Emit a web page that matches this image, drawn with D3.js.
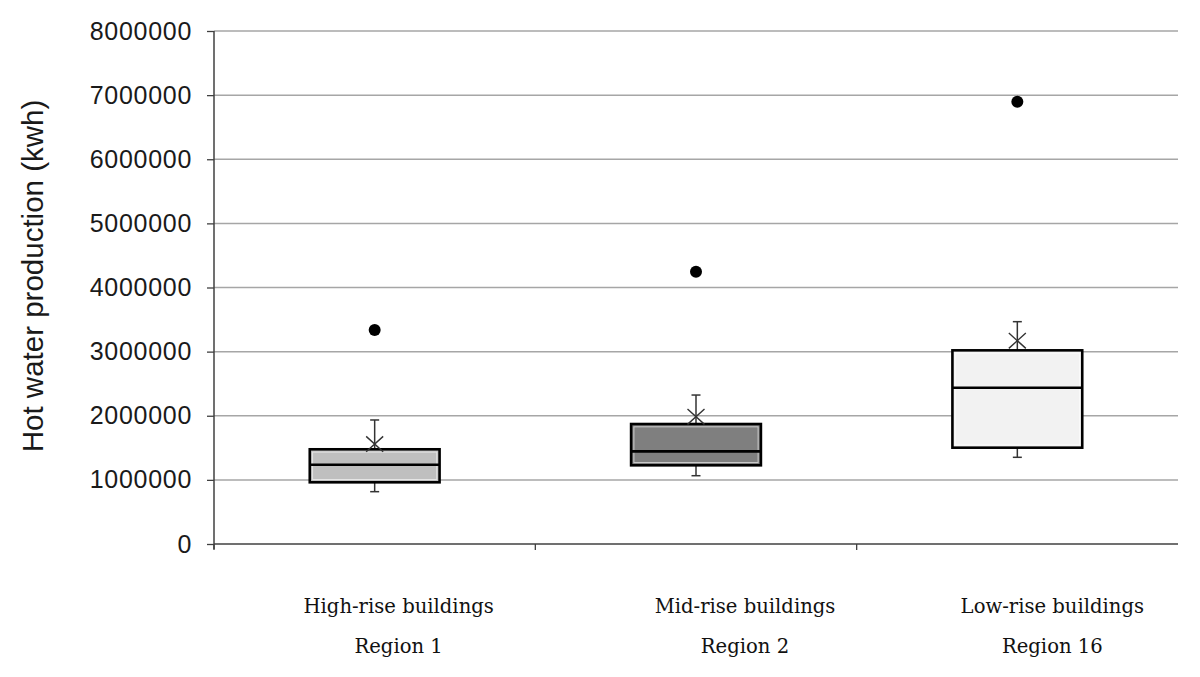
<!DOCTYPE html>
<html>
<head>
<meta charset="utf-8">
<script src="https://cdn.jsdelivr.net/npm/d3@7"></script>
<style>
  body { margin: 0; background: #fff; }
</style>
</head>
<body>
<svg id="chart"></svg>
<script>
// data
var buildingTypes = ["High-rise buildings", "Mid-rise buildings", "Low-rise buildings"];
var regionNames   = ["Region 1", "Region 2", "Region 16"];
var whiskerLow    = [816000, 1065000, 1352000];
var q1Values      = [962000, 1227000, 1502000];
var medianValues  = [1237000, 1445000, 2437000];
var q3Values      = [1477000, 1871000, 3020000];
var whiskerHigh   = [1934000, 2323000, 3467000];
var meanValues    = [1559000, 1985000, 3170000];
var outlierValues = [3337000, 4246000, 6897000];
var yTickValues   = [0, 1000000, 2000000, 3000000, 4000000, 5000000, 6000000, 7000000, 8000000];

// styling / layout
var boxFills   = ["#bfbfbf", "#7f7f7f", "#f2f2f2"];
var labelShift = [24, 49, 35];

var width = 1200, height = 677;
var margin = { top: 31, right: 22, bottom: 133, left: 214 };

var svg = d3.select('#chart')
            .attr('width', width)
            .attr('height', height);

var boxes = buildingTypes.map(function(d, i) {
  return {
    name: d, region: regionNames[i],
    lo: whiskerLow[i], q1: q1Values[i], med: medianValues[i],
    q3: q3Values[i], hi: whiskerHigh[i], mean: meanValues[i],
    out: outlierValues[i], fill: boxFills[i], shift: labelShift[i]
  };
});

var xScale = d3.scaleBand()
               .domain(buildingTypes)
               .range([margin.left, width - margin.right])
               .padding(0);

var yScale = d3.scaleLinear()
               .domain([0, 8000000])
               .range([height - margin.bottom, margin.top]);

// gridlines
svg.append('g')
   .selectAll('line')
   .data(yTickValues.slice(1))
   .enter()
   .append('line')
   .attr('x1', margin.left)
   .attr('x2', width - margin.right)
   .attr('y1', function(d) { return yScale(d); })
   .attr('y2', function(d) { return yScale(d); })
   .style('stroke', '#a6a6a6')
   .style('stroke-width', 1.5);

// y axis
var yAxis = d3.axisLeft(yScale)
              .tickValues(yTickValues)
              .tickSize(7)
              .tickPadding(15)
              .tickFormat(d3.format('d'));

var yg = svg.append('g')
            .attr('class', 'y_axis')
            .attr('transform', 'translate(' + margin.left + ',0)')
            .call(yAxis);
yg.select('.domain').remove();
yg.selectAll('.tick line').style('stroke', '#404040').style('stroke-width', 1.3);
yg.selectAll('text')
  .style('font-family', '"Liberation Sans", Arial, sans-serif')
  .style('font-size', '25px')
  .style('letter-spacing', '0.7px')
  .style('fill', '#1a1a1a');

svg.append('line')
   .attr('x1', margin.left).attr('x2', margin.left)
   .attr('y1', yScale(8000000)).attr('y2', yScale(0) + 5)
   .style('stroke', '#404040')
   .style('stroke-width', 1.5);

// x axis line + ticks at category boundaries
svg.append('line')
   .attr('x1', margin.left).attr('x2', width - margin.right)
   .attr('y1', yScale(0)).attr('y2', yScale(0))
   .style('stroke', '#404040')
   .style('stroke-width', 1.5);

svg.append('g')
   .selectAll('line')
   .data(buildingTypes)
   .enter()
   .append('line')
   .attr('x1', function(d) { return xScale(d); })
   .attr('x2', function(d) { return xScale(d); })
   .attr('y1', yScale(0))
   .attr('y2', yScale(0) + 6)
   .style('stroke', '#404040')
   .style('stroke-width', 1.3);

// category labels
var labels = svg.append('g')
                .selectAll('g')
                .data(boxes)
                .enter()
                .append('g')
                .attr('transform', function(d) { return 'translate(' + (xScale(d.name) + xScale.bandwidth() / 2 + d.shift) + ',0)'; })
                .style('font-family', '"DejaVu Serif", Georgia, serif')
                .style('font-size', '19.6px')
                .style('fill', '#111');

labels.append('text')
      .attr('y', 613)
      .attr('text-anchor', 'middle')
      .text(function(d) { return d.name; });

labels.append('text')
      .attr('y', 653)
      .attr('text-anchor', 'middle')
      .text(function(d) { return d.region; });

// y axis title
svg.append('text')
   .attr('transform', 'translate(43,' + 276 + ') rotate(-90)')
   .attr('text-anchor', 'middle')
   .style('font-family', '"Liberation Sans", Arial, sans-serif')
   .style('font-size', '29.5px')
   .style('fill', '#1a1a1a')
   .text('Hot water production (kwh)');

// boxes
var boxW = xScale.bandwidth() * 0.404;
var capW = 9;

var groups = svg.append('g')
                .selectAll('g')
                .data(boxes)
                .enter()
                .append('g')
                .attr('transform', function(d) { return 'translate(' + (xScale(d.name) + xScale.bandwidth() / 2) + ',0)'; });

// whiskers
groups.append('line')
      .attr('x1', 0).attr('x2', 0)
      .attr('y1', function(d) { return yScale(d.q3); })
      .attr('y2', function(d) { return yScale(d.hi); })
      .style('stroke', '#333').style('stroke-width', 1.5);
groups.append('line')
      .attr('x1', 0).attr('x2', 0)
      .attr('y1', function(d) { return yScale(d.q1); })
      .attr('y2', function(d) { return yScale(d.lo); })
      .style('stroke', '#333').style('stroke-width', 1.5);
groups.append('line')
      .attr('x1', -capW / 2).attr('x2', capW / 2)
      .attr('y1', function(d) { return yScale(d.hi); })
      .attr('y2', function(d) { return yScale(d.hi); })
      .style('stroke', '#333').style('stroke-width', 1.5);
groups.append('line')
      .attr('x1', -capW / 2).attr('x2', capW / 2)
      .attr('y1', function(d) { return yScale(d.lo); })
      .attr('y2', function(d) { return yScale(d.lo); })
      .style('stroke', '#333').style('stroke-width', 1.5);

groups.append('rect')
      .attr('x', -boxW / 2)
      .attr('width', boxW)
      .attr('y', function(d) { return yScale(d.q3); })
      .attr('height', function(d) { return yScale(d.q1) - yScale(d.q3); })
      .style('fill', function(d) { return d.fill; })
      .style('stroke', '#000')
      .style('stroke-width', 2.6);

// thin light inner edge like the original
groups.append('rect')
      .attr('x', -boxW / 2 + 2.8)
      .attr('width', boxW - 5.6)
      .attr('y', function(d) { return yScale(d.q3) + 2.8; })
      .attr('height', function(d) { return yScale(d.q1) - yScale(d.q3) - 5.6; })
      .style('fill', 'none')
      .style('stroke', '#ffffff')
      .style('stroke-opacity', 0.6)
      .style('stroke-width', 1);

groups.append('line')
      .attr('x1', -boxW / 2).attr('x2', boxW / 2)
      .attr('y1', function(d) { return yScale(d.med); })
      .attr('y2', function(d) { return yScale(d.med); })
      .style('stroke', '#000').style('stroke-width', 2.6);

// mean markers (x)
var mk = 8.5;
groups.append('path')
      .attr('d', function(d) {
        var y = yScale(d.mean);
        return 'M' + (-mk) + ',' + (y - mk * 0.9) + 'L' + mk + ',' + (y + mk * 0.9) +
               'M' + (-mk) + ',' + (y + mk * 0.9) + 'L' + mk + ',' + (y - mk * 0.9);
      })
      .style('stroke', '#333')
      .style('stroke-width', 1.4)
      .style('fill', 'none');

// outliers
groups.append('circle')
      .attr('cx', 0)
      .attr('cy', function(d) { return yScale(d.out); })
      .attr('r', 6)
      .style('fill', '#000');
</script>
</body>
</html>
